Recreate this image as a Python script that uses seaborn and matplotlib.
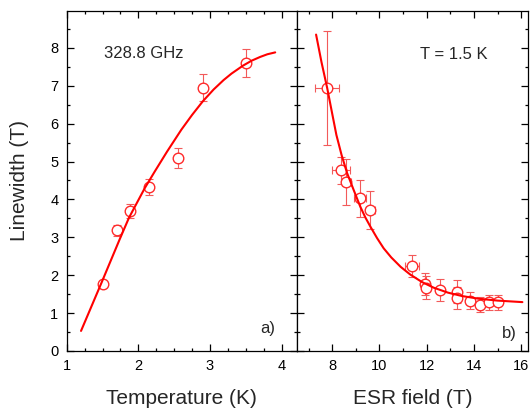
import numpy as np
import pandas as pd
import matplotlib
matplotlib.use("Agg")
import matplotlib.pyplot as plt
import seaborn as sns
from matplotlib.ticker import MultipleLocator

# ---------------- data: panel a) (linewidth vs temperature) ----------------
temp_K = [1.50, 1.70, 1.89, 2.15, 2.55, 2.90, 3.50]
width_a = [1.78, 3.18, 3.70, 4.32, 5.09, 6.95, 7.60]
yerr_a = [0.08, 0.15, 0.19, 0.21, 0.26, 0.35, 0.38]
fit_a_T = [1.20, 1.49, 1.74, 1.87, 2.09, 2.23, 2.40, 2.60, 2.75, 2.90, 3.05,
           3.19, 3.30, 3.46, 3.58, 3.70, 3.80, 3.91]
fit_a_W = [0.53, 1.82, 2.95, 3.52, 4.30, 4.74, 5.26, 5.84, 6.23, 6.59, 6.90,
           7.15, 7.32, 7.53, 7.66, 7.76, 7.83, 7.88]

# ---------------- data: panel b) (linewidth vs ESR field) ----------------
field_T = [7.79, 8.38, 8.60, 9.17, 9.62, 11.38, 11.94, 11.98, 12.57, 13.28, 13.28,
           13.84, 14.25, 14.65, 15.03]
width_b = [6.94, 4.77, 4.46, 4.03, 3.71, 2.25, 1.77, 1.67, 1.61, 1.57, 1.40,
           1.33, 1.22, 1.28, 1.28]
yerr_b = [1.50, 0.35, 0.60, 0.49, 0.50, 0.29, 0.30, 0.30, 0.29, 0.30, 0.30,
          0.22, 0.20, 0.20, 0.20]
xerr_b = [0.51, 0.39, 0.20, 0.25, 0.20, 0.28, 0.15, 0.15, 0.12, 0.12, 0.12,
          0.12, 0.12, 0.12, 0.12]
fit_b_B = [7.32, 7.55, 7.79, 8.00, 8.18, 8.40, 8.63, 8.91, 9.19, 9.40, 9.62, 9.90,
           10.18, 10.50, 10.90, 11.30, 11.80, 12.30, 12.90, 13.50, 14.20, 15.00, 16.05]
fit_b_W = [8.35, 7.62, 6.94, 6.27, 5.70, 5.17, 4.70, 4.25, 3.81, 3.53, 3.28, 2.98,
           2.71, 2.47, 2.22, 2.02, 1.82, 1.67, 1.54, 1.45, 1.38, 1.33, 1.29]

label_a = "328.8 GHz"
label_b = "T = 1.5 K"

df_a = pd.DataFrame({"T": temp_K, "W": width_a, "err": yerr_a})
fit_a = pd.DataFrame({"T": fit_a_T, "W": fit_a_W})
df_b = pd.DataFrame({"B": field_T, "W": width_b, "yerr": yerr_b, "xerr": xerr_b})
fit_b = pd.DataFrame({"B": fit_b_B, "W": fit_b_W})

sns.set_style("ticks")
plt.rcParams["font.family"] = ["Liberation Sans", "DejaVu Sans"]
plt.rcParams["axes.linewidth"] = 0.9
plt.rcParams["lines.solid_joinstyle"] = "round"

RED = "#ff0000"
MRED = "#ff2a2a"
ERED = "#f25a5a"

fig = plt.figure(figsize=(5.32, 4.11), dpi=100)
W, H = 532.0, 411.0
ax_a = fig.add_axes([66.7 / W, 1 - 351 / H, (296.7 - 66.7) / W, (351 - 10.7) / H])
ax_b = fig.add_axes([296.7 / W, 1 - 351 / H, (528.3 - 296.7) / W, (351 - 10.7) / H])

# panel a
ax_a.errorbar(df_a["T"], df_a["W"], yerr=df_a["err"], fmt="none", ecolor=ERED,
              elinewidth=0.8, capsize=3, capthick=0.8, zorder=2)
sns.scatterplot(data=df_a, x="T", y="W", ax=ax_a, marker="o", s=58,
                facecolor="white", edgecolor=MRED, linewidth=1.0, zorder=3)
sns.lineplot(data=fit_a, x="T", y="W", ax=ax_a, color=RED, linewidth=1.5,
             sort=False, estimator=None, zorder=4)

# panel b
ax_b.errorbar(df_b["B"], df_b["W"], yerr=df_b["yerr"], xerr=df_b["xerr"], fmt="none",
              ecolor=ERED, elinewidth=0.8, capsize=3, capthick=0.8, zorder=2)
sns.scatterplot(data=df_b, x="B", y="W", ax=ax_b, marker="o", s=58,
                facecolor="white", edgecolor=MRED, linewidth=1.0, zorder=3)
sns.lineplot(data=fit_b, x="B", y="W", ax=ax_b, color=RED, linewidth=1.5,
             sort=False, estimator=None, zorder=4)

ax_a.set_xlim(1.0, 4.21)
ax_b.set_xlim(6.5, 16.3)
for ax in (ax_a, ax_b):
    ax.set_ylim(0, 8.98)
    ax.yaxis.set_major_locator(MultipleLocator(1))
    ax.yaxis.set_minor_locator(MultipleLocator(0.5))
    ax.tick_params(which="both", direction="in", top=True, right=True,
                   width=0.9, colors="black", labelsize=10.5, pad=6)
    ax.tick_params(which="major", length=5)
    ax.tick_params(which="minor", length=2.5)
    for s in ax.spines.values():
        s.set_visible(True)
        s.set_color("black")
        s.set_linewidth(0.9)
    ax.set_facecolor("white")

ax_a.xaxis.set_major_locator(MultipleLocator(1))
ax_a.xaxis.set_minor_locator(MultipleLocator(0.25))
ax_b.xaxis.set_major_locator(MultipleLocator(2))
ax_b.xaxis.set_minor_locator(MultipleLocator(1))
ax_b.tick_params(labelleft=False)

ax_a.set_xlabel("Temperature (K)", fontsize=15)
ax_b.set_xlabel("ESR field (T)", fontsize=15)
ax_a.set_ylabel("Linewidth (T)", fontsize=15)
ax_b.set_ylabel("")
ax_a.xaxis.set_label_coords(0.5, -0.112)
ax_b.xaxis.set_label_coords(0.5, -0.112)
ax_a.yaxis.set_label_coords(-0.165, 0.5)

ax_a.text(0.162, 0.875, label_a, transform=ax_a.transAxes, fontsize=12,
          ha="left", va="center")
ax_b.text(0.532, 0.872, label_b, transform=ax_b.transAxes, fontsize=12,
          ha="left", va="center")
ax_a.text(0.906, 0.067, "a)", transform=ax_a.transAxes, fontsize=12,
          ha="right", va="center")
ax_b.text(0.951, 0.052, "b)", transform=ax_b.transAxes, fontsize=12,
          ha="right", va="center")

fig.savefig("out.png", dpi=100, facecolor="white")
